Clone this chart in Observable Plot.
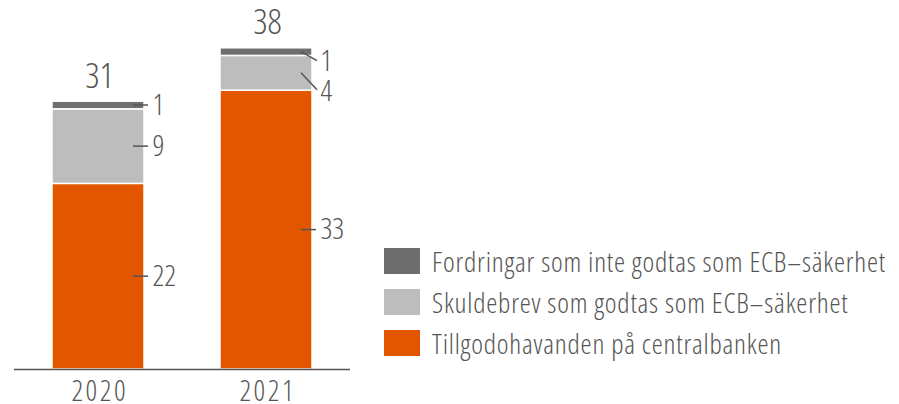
<!DOCTYPE html>
<html>
<head>
<meta charset="utf-8">
<script src="https://cdn.jsdelivr.net/npm/d3@7"></script>
<script src="https://cdn.jsdelivr.net/npm/@observablehq/plot@0.6"></script>
<style>
  html, body { margin: 0; padding: 0; background: #fff; }
  #wrap { position: relative; width: 899px; height: 404px; overflow: hidden; color: #555; }
  #legend { position: absolute; left: 384px; top: 240px; }
  .row { display: flex; align-items: center; height: 41px; }
  .sw { width: 36px; height: 26px; margin-right: 12px; flex: none; }
  .lab { color: #555; white-space: nowrap; }
</style>
</head>
<body>
<div id="wrap"><div id="chart"></div><div id="legend"></div></div>
<script>
// ---- data ----
const years = ["2020", "2021"];
const seriesNames = [
  "Tillgodohavanden på centralbanken",
  "Skuldebrev som godtas som ECB–säkerhet",
  "Fordringar som inte godtas som ECB–säkerhet"
];
const tillgodohavanden = [21.9, 32.9];
const skuldebrev = [8.8, 4.1];
const fordringar = [0.9, 0.9];
const totals = [31, 38];
const seriesColors = ["#e25600", "#bdbdbd", "#6e6e6e"];

// ---- font choice: prefer a condensed face ----
const WEIGHT = 350;
function measure(text, family, stretch, size) {
  const s = document.createElement("span");
  s.style.cssText = `position:absolute;visibility:hidden;white-space:nowrap;font-family:${family};font-stretch:${stretch};font-weight:${WEIGHT};font-size:${size}px`;
  s.textContent = text;
  document.body.appendChild(s);
  const w = s.getBoundingClientRect().width;
  s.remove();
  return w;
}
const sample = "Fordringar som inte godtas som ECB–säkerhet";
const candidates = [
  ['"Liberation Sans Narrow"', "100%"],
  ['"Open Sans"', "75%"],
  ['"Noto Sans"', "75%"],
  ['"Liberation Sans"', "condensed"],
  ["Roboto", "100%"]
];
let FAMILY = "Roboto", STRETCH = "100%";
for (const [fam, st] of candidates) {
  const wFam = measure(sample, fam + ", monospace", st, 40);
  const wMono = measure(sample, "monospace", "100%", 40);
  if (Math.abs(wFam - wMono) < 1) continue; // family not installed
  const wNorm = measure(sample, fam, "100%", 40);
  if (st === "100%" || wFam < 0.93 * wNorm) { FAMILY = fam; STRETCH = st; break; }
}
const FONT = FAMILY + ", sans-serif";
// sizes follow the reference cap heights; widths are matched with letter spacing
function fitSize(text, target, maxSize) {
  return Math.min(maxSize, 100 * target / measure(text, FONT, STRETCH, 100));
}
function spacing(text, size, target) {
  return Math.max(0, Math.min(4, (target - measure(text, FONT, STRETCH, size)) / text.length));
}
const legendSize = fitSize(sample, 454, 28);
const yearSize = fitSize("2020", 56.6, 28.5);
const totalSize = fitSize("38", 32.6, 35);
const segSize = fitSize("33", 27.6, 29);
const legendLS = spacing(sample, legendSize, 454);
const yearLS = spacing("2020", yearSize, 56.6);
const totalLS = spacing("38", totalSize, 32.6);
const segLS = spacing("33", segSize, 27.6);

// ---- layout ----
const W = 899, H = 404;
const mL = 14, mR = 549, mT = 30, mB = 35;
const padIn = 0.452, padOut = 0.226;
const step = (W - mL - mR) / (years.length - padIn + 2 * padOut);
const bw = step * (1 - padIn);
const INK = "#555";
// pixel shift of crowded labels (2021 top two segments)
const labelShift = {"2021": [0, 18, 10]};

// tidy table
const valuesBySeries = [tillgodohavanden, skuldebrev, fordringar];
const rows = [];
years.forEach((yr, i) => {
  let acc = 0;
  valuesBySeries.forEach((vals, s) => {
    const v = vals[i];
    rows.push({year: yr, series: seriesNames[s], value: v, y0: acc, y1: acc + v,
      mid: acc + v / 2, label: String(Math.round(v)),
      shift: (labelShift[yr] || [0, 0, 0])[s]});
    acc += v;
  });
});
const tops = years.map((yr, i) => ({year: yr, top: d3.sum(valuesBySeries, v => v[i]), text: String(totals[i])}));
const shifts = Array.from(new Set(rows.map(r => r.shift)));

function leaders(index, scales) {
  const x = scales.x, y = scales.y;
  const b = x.bandwidth ? x.bandwidth() : bw;
  const g = d3.create("svg:g").attr("stroke", INK).attr("stroke-width", 1.5);
  for (const r of rows) {
    const right = x(r.year) + b;
    const ym = y(r.mid);
    const ye = ym + (r.shift ? r.shift - 1 : 0);
    g.append("line")
      .attr("x1", right - 11).attr("y1", ym)
      .attr("x2", right + (r.shift ? 5 : 4)).attr("y2", ye);
  }
  return g.node();
}

const chart = Plot.plot({
  width: W, height: H,
  marginLeft: mL, marginRight: mR, marginTop: mT, marginBottom: mB,
  style: {fontFamily: FONT, fontStretch: STRETCH, fontWeight: WEIGHT, color: INK, background: "transparent"},
  x: {domain: years, paddingInner: padIn, paddingOuter: padOut, align: 0.5, label: null},
  y: {domain: [0, 40], axis: null},
  color: {domain: seriesNames, range: seriesColors},
  marks: [
    Plot.rectY(rows, {x: "year", y1: "y0", y2: "y1", fill: "series", stroke: "white", strokeWidth: 1.5}),
    Plot.ruleY([0], {stroke: INK, strokeWidth: 1.5}),
    Plot.axisX({tickSize: 0, tickPadding: 11, fontSize: yearSize, fill: INK, label: null}),
    leaders,
    ...shifts.map(s => Plot.text(rows.filter(r => r.shift === s), {
      x: "year", y: "mid", text: "label", textAnchor: "start", lineAnchor: "middle",
      dx: bw / 2 + 8, dy: s, fontSize: segSize, fill: INK, ariaLabel: "segment-labels"
    })),
    Plot.text(tops, {x: "year", y: "top", text: "text", lineAnchor: "bottom", dy: -14, dx: totalLS / 2,
      fontSize: totalSize, fill: INK, ariaLabel: "total-labels"})
  ]
});
d3.select(chart).selectAll('g[aria-label="x-axis tick label"]')
  .style("letter-spacing", yearLS + "px")
  .attr("transform", function () {
    const t = this.getAttribute("transform") || "";
    return t + ` translate(${yearLS / 2},0)`;
  });
d3.select(chart).selectAll('g[aria-label="segment-labels"]').style("letter-spacing", segLS + "px");
d3.select(chart).selectAll('g[aria-label="total-labels"]').style("letter-spacing", totalLS + "px");
document.getElementById("chart").appendChild(chart);

// legend (top to bottom: reverse stacking order)
const legend = d3.select("#legend");
seriesNames.map((n, i) => [n, seriesColors[i]]).reverse().forEach(([n, c]) => {
  const row = legend.append("div").attr("class", "row");
  row.append("div").attr("class", "sw").style("background", c);
  row.append("div").attr("class", "lab")
    .style("font-family", FONT).style("font-stretch", STRETCH).style("font-weight", WEIGHT)
    .style("font-size", legendSize + "px").style("letter-spacing", legendLS + "px")
    .text(n);
});
</script>
</body>
</html>
